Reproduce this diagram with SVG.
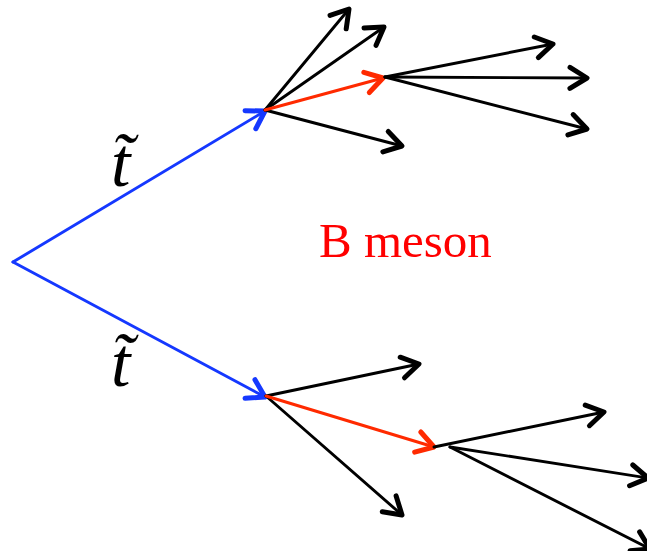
<svg xmlns="http://www.w3.org/2000/svg" width="647" height="551" viewBox="0 0 647 551">
<style>
.l{fill:none;stroke-width:2.9;stroke-linecap:round}
.k{stroke:#000}
.r{stroke:#ff2a00}
.b{stroke:#1538ff}
.lbl{font-family:"Liberation Serif","Times New Roman",serif}
</style>
<defs>
<marker id="ak" markerUnits="userSpaceOnUse" orient="auto" overflow="visible" markerWidth="1" markerHeight="1" refX="0" refY="0"><path fill="none" stroke-width="5" stroke-linecap="round" stroke-linejoin="round" stroke="#000" d="M-17,-10.5 L0,0 L-17,10.5"/></marker>
<marker id="ar" markerUnits="userSpaceOnUse" orient="auto" overflow="visible" markerWidth="1" markerHeight="1" refX="0" refY="0"><path fill="none" stroke-width="5" stroke-linecap="round" stroke-linejoin="round" stroke="#ff2a00" d="M-17,-10.5 L0,0 L-17,10.5"/></marker>
<marker id="ab" markerUnits="userSpaceOnUse" orient="auto" overflow="visible" markerWidth="1" markerHeight="1" refX="0" refY="0"><path fill="none" stroke-width="5" stroke-linecap="round" stroke-linejoin="round" stroke="#1538ff" d="M-17,-10.5 L0,0 L-17,10.5"/></marker>
</defs>
<g id="connectors">
<line class="l b" x1="13" y1="262" x2="265" y2="111" marker-end="url(#ab)"/>
<line class="l b" x1="13" y1="262" x2="265" y2="397" marker-end="url(#ab)"/>
<line class="l k" x1="265" y1="110" x2="349" y2="9" marker-end="url(#ak)"/>
<line class="l k" x1="265" y1="110" x2="384" y2="27" marker-end="url(#ak)"/>
<line class="l k" x1="265" y1="110" x2="402" y2="146" marker-end="url(#ak)"/>
<line class="l r" x1="265" y1="110" x2="383" y2="78" marker-end="url(#ar)"/>
<line class="l k" x1="385" y1="77" x2="553" y2="44" marker-end="url(#ak)"/>
<line class="l k" x1="385" y1="77" x2="587" y2="78" marker-end="url(#ak)"/>
<line class="l k" x1="385" y1="77" x2="587" y2="129" marker-end="url(#ak)"/>
<line class="l k" x1="266" y1="396" x2="419" y2="364" marker-end="url(#ak)"/>
<line class="l k" x1="266" y1="396" x2="402" y2="515" marker-end="url(#ak)"/>
<line class="l r" x1="266" y1="396" x2="434" y2="447" marker-end="url(#ar)"/>
<line class="l k" x1="434" y1="447" x2="604" y2="412" marker-end="url(#ak)"/>
<line class="l k" x1="450" y1="447" x2="648" y2="478" marker-end="url(#ak)"/>
<line class="l k" x1="450" y1="447" x2="650" y2="549" marker-end="url(#ak)"/>
</g>
<g id="label-bmeson"><text class="lbl" x="319" y="257" font-size="49" fill="#ff0000">B meson</text></g>
<g id="label-t-top"><text class="lbl" x="111" y="186" font-size="70" font-style="italic" fill="#000">t̃</text></g>
<g id="label-t-bottom"><text class="lbl" x="111" y="386" font-size="70" font-style="italic" fill="#000">t̃</text></g>
</svg>
